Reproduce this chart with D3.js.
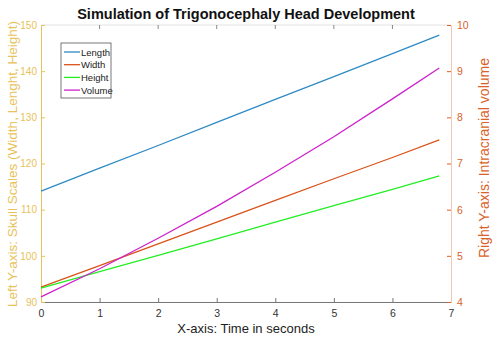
<!DOCTYPE html>
<html><head><meta charset="utf-8">
<script src="https://cdn.jsdelivr.net/npm/d3@7"></script>
<style>body{margin:0;background:#fff;} svg{display:block;font-family:"Liberation Sans",Arial,sans-serif;}</style>
</head><body>
<svg id="c" width="500" height="340"></svg>
<script>
const time = [0, 1, 2, 3, 4, 5, 6, 6.8];
const lengthVals = [114.0, 119.0, 123.9, 128.9, 133.9, 138.8, 143.8, 147.8];
const widthVals  = [93.2, 97.9, 102.6, 107.3, 112.0, 116.7, 121.3, 125.1];
const heightVals = [93.0, 96.6, 100.1, 103.7, 107.3, 110.9, 114.4, 117.3];
const volumeVals = [4.11, 4.72, 5.38, 6.07, 6.81, 7.58, 8.40, 9.07];
const xTicks = [0, 1, 2, 3, 4, 5, 6, 7];
const leftTicks = [90, 100, 110, 120, 130, 140, 150];
const rightTicks = [4, 5, 6, 7, 8, 9, 10];
const seriesNames = ["Length", "Width", "Height", "Volume"];
const seriesColors = ["#2f8ac4", "#d95319", "#22ee22", "#cc22cc"];

const L = 41, R = 451, T = 25, B = 302;
const svg = d3.select("#c");
const x = d3.scaleLinear().domain([0, 7]).range([L, R]);
const yL = d3.scaleLinear().domain([90, 150]).range([B, T]);
const yR = d3.scaleLinear().domain([4, 10]).range([B, T]);
const leftCol = "#e8c25a", rightCol = "#d9622b";
const fmt = d3.format("d");

// top border
svg.append("line").attr("x1", L).attr("x2", R).attr("y1", T).attr("y2", T).attr("stroke", "#e2e2e2");
svg.append("g").selectAll("line").data(xTicks.slice(1, -1)).join("line")
  .attr("x1", d => x(d)).attr("x2", d => x(d)).attr("y1", T).attr("y2", T + 4).attr("stroke", "#888");

// bottom axis
const gx = svg.append("g").attr("transform", `translate(0,${B})`)
  .call(d3.axisBottom(x).tickValues(xTicks).tickFormat(fmt).tickSizeInner(-4).tickSizeOuter(0).tickPadding(8));
gx.select(".domain").attr("stroke", "#777");
gx.selectAll(".tick line").attr("stroke", "#777");
gx.selectAll("text").attr("fill", "#333").attr("font-size", 10.5).attr("font-family", "Liberation Sans, Arial");

// left axis
const gl = svg.append("g").attr("transform", `translate(${L},0)`)
  .call(d3.axisLeft(yL).tickValues(leftTicks).tickFormat(fmt).tickSizeInner(-4).tickSizeOuter(0).tickPadding(4));
gl.select(".domain").attr("stroke", leftCol);
gl.selectAll(".tick line").attr("stroke", leftCol);
gl.selectAll("text").attr("fill", leftCol).attr("font-size", 10).attr("font-family", "Liberation Sans, Arial");

// right axis
const gr = svg.append("g").attr("transform", `translate(${R},0)`)
  .call(d3.axisRight(yR).tickValues(rightTicks).tickFormat(fmt).tickSizeInner(-4).tickSizeOuter(0).tickPadding(6));
gr.select(".domain").attr("stroke", "#f0c8b4");
gr.selectAll(".tick line").attr("stroke", rightCol);
gr.selectAll("text").attr("fill", rightCol).attr("font-size", 10.5).attr("font-family", "Liberation Sans, Arial");

// lines
const mk = (ys) => d3.line().x((d, i) => x(time[i])).y(d => ys(d));
const series = [[lengthVals, yL], [widthVals, yL], [heightVals, yL], [volumeVals, yR]];
series.forEach(([vals, sc], i) => {
  svg.append("path").datum(vals).attr("d", mk(sc)).attr("fill", "none")
    .attr("stroke", seriesColors[i]).attr("stroke-width", 1.3);
});

// title
svg.append("text").attr("x", 246).attr("y", 19).attr("text-anchor", "middle")
  .attr("font-weight", "bold").attr("font-size", 14.5).attr("fill", "#111")
  .text("Simulation of Trigonocephaly Head Development");
// x label
svg.append("text").attr("x", 246).attr("y", 333).attr("text-anchor", "middle")
  .attr("font-size", 13).attr("fill", "#222").text("X-axis: Time in seconds");
// left label
svg.append("text").attr("transform", `translate(17,164) rotate(-90)`).attr("text-anchor", "middle")
  .attr("font-size", 13.5).attr("fill", leftCol).text("Left Y-axis: Skull Scales (Width, Lenght, Height)");
// right label
svg.append("text").attr("transform", `translate(489,158) rotate(-90)`).attr("text-anchor", "middle")
  .attr("font-size", 14).attr("fill", rightCol).text("Right Y-axis: Intracranial volume");

// legend
const lg = svg.append("g");
lg.append("rect").attr("x", 61).attr("y", 43).attr("width", 50).attr("height", 55)
  .attr("fill", "#fff").attr("stroke", "#555").attr("stroke-width", 0.8);
seriesNames.forEach((n, i) => {
  const yy = 52 + i * 12.7;
  lg.append("line").attr("x1", 64).attr("x2", 80).attr("y1", yy).attr("y2", yy)
    .attr("stroke", seriesColors[i]).attr("stroke-width", 1.3);
  lg.append("text").attr("x", 81).attr("y", yy + 3.5).attr("font-size", 9.5).attr("fill", "#222").text(n);
});
</script>
</body></html>
